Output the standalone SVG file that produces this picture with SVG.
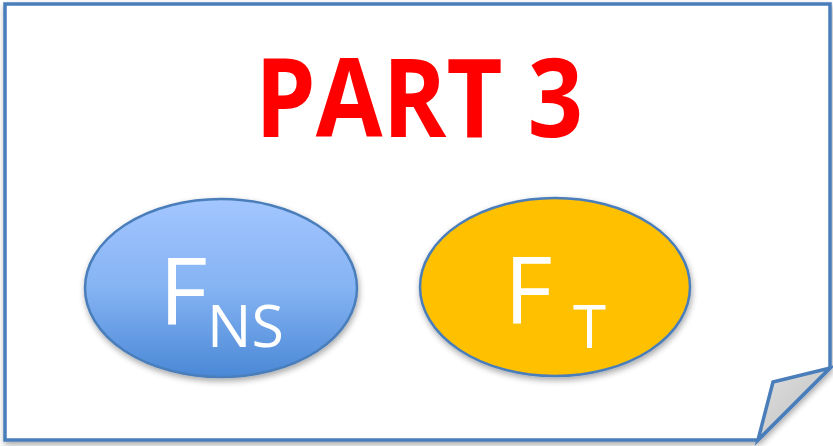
<svg xmlns="http://www.w3.org/2000/svg" width="833" height="446" viewBox="0 0 833 446">
<defs>
<linearGradient id="blueGrad" x1="0" y1="0" x2="0" y2="1">
<stop offset="0" stop-color="#a3c6ff"/>
<stop offset="0.5" stop-color="#85b3f3"/>
<stop offset="1" stop-color="#4a88d6"/>
</linearGradient>
<linearGradient id="foldGrad" x1="0" y1="0" x2="1" y2="1">
<stop offset="0" stop-color="#e0e0e0"/>
<stop offset="1" stop-color="#bdbdbd"/>
</linearGradient>
<filter id="shadow" x="-10%" y="-10%" width="125%" height="130%">
<feGaussianBlur in="SourceAlpha" stdDeviation="3"/>
<feOffset dx="1" dy="3" result="b"/>
<feComponentTransfer><feFuncA type="linear" slope="0.35"/></feComponentTransfer>
<feMerge><feMergeNode/><feMergeNode in="SourceGraphic"/></feMerge>
</filter>
<style>
.edge{stroke:#4a7ebb;stroke-width:3.5;stroke-linejoin:miter}
.node-outline{stroke:#4a7ebb;stroke-width:2.5}
.big{font-family:"Open Sans","Liberation Sans",sans-serif;fill:#ffffff}
.title{font-family:"Open Sans","Liberation Sans",sans-serif;font-weight:bold;fill:#ff0000}
</style>
</defs>
<g id="page">
<path class="edge" d="M5,4 L830,4 L830,368 L758,440 L5,440 Z" fill="#ffffff" filter="url(#shadow)"/>
<path class="edge" d="M773,382 L830,368 L758,440 Z" fill="url(#foldGrad)"/>
</g>
<g id="title">
<text class="title" x="419" y="137" font-size="110" text-anchor="middle" textLength="328" lengthAdjust="spacingAndGlyphs">PART 3</text>
</g>
<g id="node-fns">
<ellipse class="node-outline" cx="221" cy="288" rx="136" ry="89" fill="url(#blueGrad)" filter="url(#shadow)"/>
<text class="big" x="159" y="325" font-size="94">F</text>
<text class="big" x="207" y="347" font-size="59">NS</text>
</g>
<g id="node-ft">
<ellipse class="node-outline" cx="555" cy="287" rx="135" ry="89" fill="#ffc000" filter="url(#shadow)"/>
<text class="big" x="504" y="324" font-size="94">F</text>
<text class="big" x="573" y="348" font-size="60">T</text>
</g>
<g id="connectors"></g>
</svg>
